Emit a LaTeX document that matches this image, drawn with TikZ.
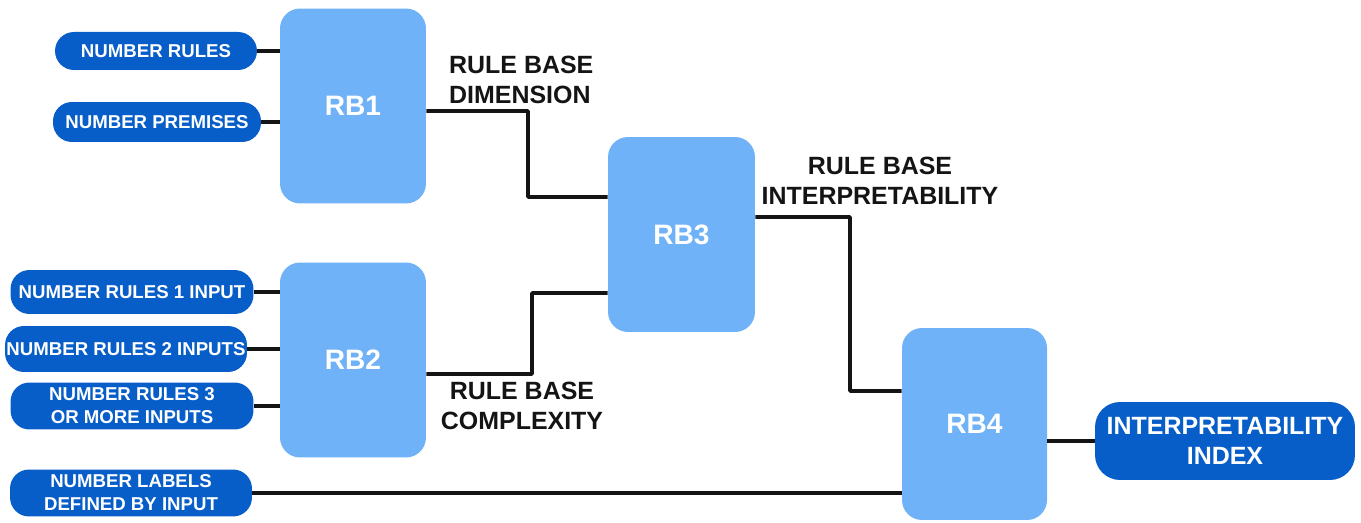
\documentclass[tikz,border=0pt]{standalone}
\usepackage{fontspec}
\setmainfont{Liberation Sans}

\definecolor{boxblue}{RGB}{112,178,248}
\definecolor{pillblue}{RGB}{8,94,200}
\definecolor{wireblack}{RGB}{20,20,20}

\begin{document}
\begin{tikzpicture}[x=0.02cm,y=-0.02cm,
  rb/.style={fill=boxblue,rounded corners=0.4cm,minimum width=2.92cm,minimum height=3.9cm,
             text=white,font=\bfseries\fontsize{16}{19}\selectfont},
  pill/.style={fill=pillblue,rounded corners=0.38cm,inner sep=0pt,text=white,align=center,
               font=\bfseries\fontsize{10.6}{13}\selectfont},
  lbl/.style={text=wireblack,font=\bfseries\fontsize{14.2}{17}\selectfont},
  wire/.style={draw=wireblack,line width=2.2pt,line join=round}]
\useasboundingbox (0,0) rectangle (1361,523);

\draw (353,106)   node[rb] (rb1) {RB1};
\draw (353,360)   node[rb] (rb2) {RB2};
\draw (681.5,234.5) node[rb,minimum width=2.94cm] (rb3) {RB3};
\draw (974.5,424) node[rb,minimum width=2.9cm,minimum height=3.84cm] (rb4) {RB4};

\draw (156,51)  node[pill,minimum width=4.04cm,minimum height=0.76cm] (nr)  {NUMBER RULES};
\draw (157,122) node[pill,minimum width=4.16cm,minimum height=0.8cm]  (np)  {NUMBER PREMISES};
\draw (132,292) node[pill,minimum width=4.86cm,minimum height=0.88cm] (nr1) {NUMBER RULES 1 INPUT};
\draw (126,349) node[pill,minimum width=4.84cm,minimum height=0.92cm] (nr2) {NUMBER RULES 2 INPUTS};
\draw (132,406) node[pill,minimum width=4.86cm,minimum height=0.94cm] (nr3) {NUMBER RULES 3\\OR MORE INPUTS};
\draw (131,493) node[pill,minimum width=4.84cm,minimum height=0.94cm] (nl)  {NUMBER LABELS\\DEFINED BY INPUT};
\draw (1225,441) node[pill,minimum width=5.2cm,minimum height=1.56cm,rounded corners=0.5cm,
      font=\bfseries\fontsize{14.2}{17}\selectfont] (idx) {INTERPRETABILITY\\INDEX};

\draw (443,80)  node[lbl,anchor=west,align=left] (dimlbl) {RULE BASE\\DIMENSION};
\draw (522,406) node[lbl,align=center] (cxlbl)  {RULE BASE\\COMPLEXITY};
\draw (880,181) node[lbl,align=center] (intlbl) {RULE BASE\\INTERPRETABILITY};

\coordinate (dimknee) at (528,197);
\coordinate (cxknee)  at (532,293);
\coordinate (intknee) at (850,391);

\draw [wire] (nr)  -- (nr -| rb1.west);
\draw [wire] (np)  -- (np -| rb1.west);
\draw [wire] (nr1) -- (nr1 -| rb2.west);
\draw [wire] (nr2) -- (nr2 -| rb2.west);
\draw [wire] (nr3) -- (nr3 -| rb2.west);

\draw [wire] ([yshift=-0.1cm]rb1.east)  -| (dimknee) -- ([yshift=0.75cm]rb3.west);
\draw [wire] ([yshift=-0.28cm]rb2.east) -| (cxknee)  -- ([yshift=-1.17cm]rb3.west);
\draw [wire] ([yshift=0.35cm]rb3.east)  -| (intknee) -- ([yshift=0.66cm]rb4.west);

\draw [wire] (nl)  -- (nl -| rb4.west);
\draw [wire] (idx) -- (idx -| rb4.east);
\end{tikzpicture}
\end{document}
